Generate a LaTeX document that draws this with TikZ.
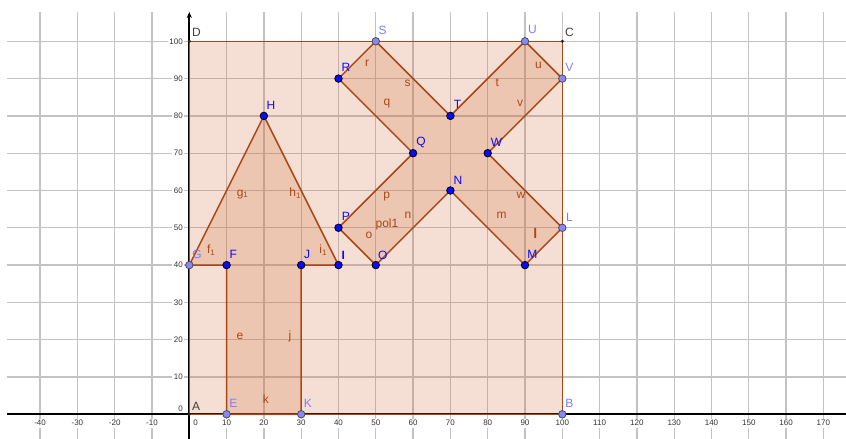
\documentclass[tikz,border=0pt]{standalone}
\usepackage{fontspec}
\setmainfont{Liberation Sans}
\usetikzlibrary{arrows.meta,calc}
\definecolor{edgec}{RGB}{168,72,24}
\definecolor{fillc}{RGB}{210,110,60}
\definecolor{ptblue}{RGB}{10,10,255}
\definecolor{ptlight}{RGB}{135,135,255}
\definecolor{lbllight}{RGB}{125,125,255}
\definecolor{gridc}{RGB}{195,195,195}
\definecolor{darkpt}{RGB}{64,64,64}
\tikzset{
  gridline/.style={draw=gridc, line width=1.3pt},
  axisline/.style={draw=black, line width=2pt},
  xtick/.style={font=\fontsize{8}{9}\selectfont, text=black!80, fill=white, inner sep=1.5pt},
  ytick/.style={font=\fontsize{8}{9}\selectfont, text=black!80, fill=white, inner sep=1.5pt, anchor=east},
  polyfill/.style={fill=fillc, fill opacity=0.22},
  polyedge/.style={draw=edgec, line width=1.5pt, line join=round},
  freept/.style={circle, fill=ptblue, draw=black, line width=0.8pt, minimum size=7.5pt, inner sep=0pt},
  deppt/.style={circle, fill=ptlight, draw=black!70, line width=0.8pt, minimum size=7.5pt, inner sep=0pt},
  smallpt/.style={circle, fill=black!85, minimum size=3.5pt, inner sep=0pt},
  lblfree/.style={font=\fontsize{12}{14}\selectfont, text=ptblue, inner sep=0pt},
  lbldep/.style={font=\fontsize{12}{14}\selectfont, text=lbllight, inner sep=0pt},
  lbldark/.style={font=\fontsize{12}{14}\selectfont, text=darkpt, inner sep=0pt},
  seglbl/.style={font=\fontsize{12}{14}\selectfont, text=edgec, inner sep=0pt}
}
\begin{document}
\begin{tikzpicture}[x=3.73pt,y=3.73pt]
\useasboundingbox (-50.75,-6.62) rectangle (176.06,111.07);
\fill[white] (-50.75,-6.62) rectangle (176.06,111.07);
% grid
\foreach \x in {-40,-30,...,170} \draw[gridline] (\x,-6.62) -- (\x,107.86);
\foreach \y in {10,20,...,100} \draw[gridline] (-48.9,\y) -- (176.06,\y);
% points coordinates
\coordinate (A) at (0,0);
\coordinate (B) at (100,0);
\coordinate (C) at (100,100);
\coordinate (D) at (0,100);
\coordinate (E) at (10,0);
\coordinate (F) at (10,40);
\coordinate (G) at (0,40);
\coordinate (H) at (20,80);
\coordinate (I) at (40,40);
\coordinate (J) at (30,40);
\coordinate (K) at (30,0);
\coordinate (L) at (100,50);
\coordinate (M) at (90,40);
\coordinate (N) at (70,60);
\coordinate (O) at (50,40);
\coordinate (P) at (40,50);
\coordinate (Q) at (60,70);
\coordinate (R) at (40,90);
\coordinate (S) at (50,100);
\coordinate (T) at (70,80);
\coordinate (U) at (90,100);
\coordinate (V) at (100,90);
\coordinate (W) at (80,70);
% tick labels
\foreach \x in {-40,-30,-20,-10,10,20,30,40,50,60,70,80,90,100,110,120,130,140,150,160,170}
  \node[xtick] at (\x,-2.4) {\x};
\node[xtick] (x0) at (1.7,-2.4) {0};
\foreach \y in {10,20,...,100} \node[ytick] at (-1.3,\y) {\y};
\node[ytick] (y0) at (-1.3,1.4) {0};
% axes
\coordinate (xl) at (-48.9,0);
\coordinate (xr) at (176.06,0);
\coordinate (yb) at (0,-6.62);
\coordinate (yt) at (0,107.86);
\draw[axisline] (xl) -- (xr);
\draw[axisline,-{Stealth[length=6pt,width=5pt]}] (yb) -- (yt);
% fills
\fill[polyfill] (A) -- (B) -- (C) -- (D) -- cycle;
\fill[polyfill] (E) -- (F) -- (G) -- (H) -- (I) -- (J) -- (K) -- cycle;
\fill[polyfill] (L) -- (M) -- (N) -- (O) -- (P) -- (Q) -- (R) -- (S) -- (T) -- (U) -- (V) -- (W) -- cycle;
% edges
\draw[polyedge] (A) -- (B) -- (C) -- (D) -- cycle;
\draw[polyedge] (E) -- (F) -- (G) -- (H) -- (I) -- (J) -- (K) -- cycle;
\draw[polyedge] (L) -- (M) -- (N) -- (O) -- (P) -- (Q) -- (R) -- (S) -- (T) -- (U) -- (V) -- (W) -- cycle;
% segment labels
\node[seglbl] (se) at (13.6,21.0) {e};
\node[seglbl] (sj) at (27.0,21.0) {j};
\node[seglbl] (sk) at (20.5,4.1) {k};
\node[seglbl] (sf) at (5.9,44.0) {f\textsubscript{1}};
\node[seglbl] (sg) at (14.3,59.0) {g\textsubscript{1}};
\node[seglbl] (sh) at (28.4,59.3) {h\textsubscript{1}};
\node[seglbl] (si) at (35.9,44.0) {i\textsubscript{1}};
\node[seglbl] (sp) at (52.9,58.5) {p};
\node[seglbl] (spol) at (53.0,51.0) {pol1};
\node[seglbl] (so) at (48.2,48.1) {o};
\node[seglbl] (sn) at (58.6,53.3) {n};
\node[seglbl] (sm) at (83.7,53.3) {m};
\node[seglbl] (sw) at (88.9,58.7) {w};
\node[seglbl] (sl) at (92.8,48.5) {\fontsize{14}{14}\selectfont\bfseries l};
\node[seglbl] (sr) at (47.7,94.0) {r};
\node[seglbl] (ss) at (58.5,88.7) {s};
\node[seglbl] (sq) at (53.0,83.2) {q};
\node[seglbl] (st) at (82.6,89.0) {t};
\node[seglbl] (su) at (93.6,93.6) {u};
\node[seglbl] (sv) at (88.7,83.3) {v};
% points
\node[smallpt] (pA) at (A) {};
\node[smallpt] (pC) at (C) {};
\node[smallpt] (pD) at (D) {};
\node[deppt] (pB) at (B) {};
\node[deppt] (pE) at (E) {};
\node[deppt] (pK) at (K) {};
\node[deppt] (pG) at (G) {};
\node[deppt] (pL) at (L) {};
\node[deppt] (pS) at (S) {};
\node[deppt] (pU) at (U) {};
\node[deppt] (pV) at (V) {};
\node[freept] (pF) at (F) {};
\node[freept] (pH) at (H) {};
\node[freept] (pI) at (I) {};
\node[freept] (pJ) at (J) {};
\node[freept] (pM) at (M) {};
\node[freept] (pN) at (N) {};
\node[freept] (pO) at (O) {};
\node[freept] (pP) at (P) {};
\node[freept] (pQ) at (Q) {};
\node[freept] (pR) at (R) {};
\node[freept] (pT) at (T) {};
\node[freept] (pW) at (W) {};
% point labels
\node[lbldark] (lA) at ($(A)+(1.8,2.1)$) {A};
\node[lbldark] (lC) at ($(C)+(1.9,2.4)$) {C};
\node[lbldark] (lD) at ($(D)+(1.9,2.4)$) {D};
\node[lbldep] (lB) at ($(B)+(1.9,3.0)$) {B};
\node[lbldep] (lE) at ($(E)+(1.8,2.9)$) {E};
\node[lbldep] (lK) at ($(K)+(1.8,2.9)$) {K};
\node[lbldep] (lG) at ($(G)+(2.1,2.8)$) {G};
\node[lbldep] (lL) at ($(L)+(1.9,2.9)$) {L};
\node[lbldep] (lS) at ($(S)+(1.8,3.0)$) {S};
\node[lbldep] (lU) at ($(U)+(2.0,3.2)$) {U};
\node[lbldep] (lV) at ($(V)+(1.9,3.1)$) {V};
\node[lblfree] (lF) at ($(F)+(1.8,2.8)$) {F};
\node[lblfree] (lH) at ($(H)+(1.9,2.9)$) {H};
\node[lblfree] (lI) at ($(I)+(1.3,2.7)$) {\bfseries I};
\node[lblfree] (lJ) at ($(J)+(1.6,2.8)$) {J};
\node[lblfree] (lM) at ($(M)+(2.0,2.8)$) {M};
\node[lblfree] (lN) at ($(N)+(2.0,2.8)$) {N};
\node[lblfree] (lO) at ($(O)+(1.9,2.7)$) {O};
\node[lblfree] (lP) at ($(P)+(2.0,3.0)$) {P};
\node[lblfree] (lQ) at ($(Q)+(2.1,2.9)$) {Q};
\node[lblfree] (lR) at ($(R)+(2.0,3.0)$) {R};
\node[lblfree] (lT) at ($(T)+(1.9,3.0)$) {T};
\node[lblfree] (lW) at ($(W)+(2.4,3.0)$) {W};
\end{tikzpicture}
\end{document}
